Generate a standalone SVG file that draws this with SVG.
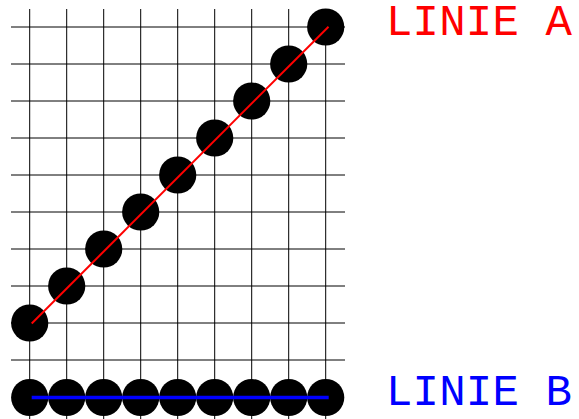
<svg xmlns="http://www.w3.org/2000/svg" width="579" height="419" viewBox="0 0 579 419">
  <style>
    .grid line { stroke: #000; stroke-width: 1; }
    .dot { fill: #000; }
    .lbl { font-family: "Liberation Mono", "Courier New", monospace; font-size: 44px; }
  </style>
  <rect width="579" height="419" fill="#fff"/>
  <g id="grid" class="grid">
    <line x1="29.7" y1="9" x2="29.7" y2="419"/>
    <line x1="66.7" y1="9" x2="66.7" y2="419"/>
    <line x1="103.7" y1="9" x2="103.7" y2="419"/>
    <line x1="140.7" y1="9" x2="140.7" y2="419"/>
    <line x1="177.7" y1="9" x2="177.7" y2="419"/>
    <line x1="214.7" y1="9" x2="214.7" y2="419"/>
    <line x1="251.7" y1="9" x2="251.7" y2="419"/>
    <line x1="288.7" y1="9" x2="288.7" y2="419"/>
    <line x1="325.7" y1="9" x2="325.7" y2="419"/>
    <line x1="11" y1="27" x2="345" y2="27"/>
    <line x1="11" y1="64" x2="345" y2="64"/>
    <line x1="11" y1="101" x2="345" y2="101"/>
    <line x1="11" y1="138" x2="345" y2="138"/>
    <line x1="11" y1="175" x2="345" y2="175"/>
    <line x1="11" y1="212" x2="345" y2="212"/>
    <line x1="11" y1="249" x2="345" y2="249"/>
    <line x1="11" y1="286" x2="345" y2="286"/>
    <line x1="11" y1="323" x2="345" y2="323"/>
    <line x1="11" y1="360" x2="345" y2="360"/>
  </g>
  <g id="lineA-dots">
    <circle class="dot" cx="29.7" cy="323" r="18.6"/>
    <circle class="dot" cx="66.7" cy="286" r="18.6"/>
    <circle class="dot" cx="103.7" cy="249" r="18.6"/>
    <circle class="dot" cx="140.7" cy="212" r="18.6"/>
    <circle class="dot" cx="177.7" cy="175" r="18.6"/>
    <circle class="dot" cx="214.7" cy="138" r="18.6"/>
    <circle class="dot" cx="251.7" cy="101" r="18.6"/>
    <circle class="dot" cx="288.7" cy="64" r="18.6"/>
    <circle class="dot" cx="325.7" cy="27" r="18.6"/>
  </g>
  <g id="lineB-dots">
    <circle class="dot" cx="29.7" cy="397.5" r="18.6"/>
    <circle class="dot" cx="66.7" cy="397.5" r="18.6"/>
    <circle class="dot" cx="103.7" cy="397.5" r="18.6"/>
    <circle class="dot" cx="140.7" cy="397.5" r="18.6"/>
    <circle class="dot" cx="177.7" cy="397.5" r="18.6"/>
    <circle class="dot" cx="214.7" cy="397.5" r="18.6"/>
    <circle class="dot" cx="251.7" cy="397.5" r="18.6"/>
    <circle class="dot" cx="288.7" cy="397.5" r="18.6"/>
    <circle class="dot" cx="325.7" cy="397.5" r="18.6"/>
  </g>
  <g id="connectors">
    <line x1="31.7" y1="323.5" x2="328.5" y2="26.7" stroke="#f00" stroke-width="2"/>
    <line x1="31.7" y1="397.5" x2="328.7" y2="397.5" stroke="#00f" stroke-width="3.6"/>
  </g>
  <g id="labels">
    <text class="lbl" x="386" y="35" fill="#f00" textLength="186" lengthAdjust="spacing">LINIE A</text>
    <text class="lbl" x="386" y="405" fill="#00f" textLength="186" lengthAdjust="spacing">LINIE B</text>
  </g>
</svg>
